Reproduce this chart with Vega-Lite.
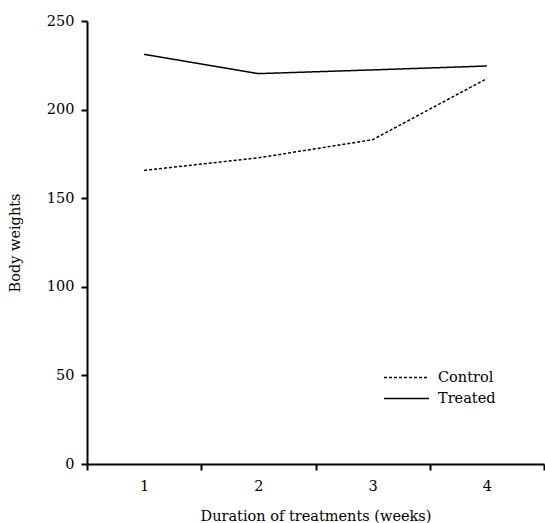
{
  "$schema": "https://vega.github.io/schema/vega-lite/v6.json",
  "autosize": "none",
  "padding": {"left": 87, "top": 21, "right": 1, "bottom": 59},
  "width": 457,
  "height": 443,
  "background": "white",
  "config": {
    "font": "DejaVu Serif",
    "view": {"stroke": null},
    "axis": {
      "domainColor": "black", "tickColor": "black", "labelColor": "black", "titleColor": "black",
      "labelFont": "DejaVu Serif", "titleFont": "DejaVu Serif",
      "labelFontSize": 14.5, "titleFontSize": 14.5, "titleFontWeight": "normal",
      "domainWidth": 2, "tickWidth": 2, "tickSize": 6, "grid": false
    },
    "legend": {"labelFont": "DejaVu Serif", "labelFontSize": 14.5, "labelColor": "black"}
  },
  "data": {
    "values": [
      {"week": "1", "group": "Control", "weight": 165.7},
      {"week": "2", "group": "Control", "weight": 172.8},
      {"week": "3", "group": "Control", "weight": 183.0},
      {"week": "4", "group": "Control", "weight": 217.5},
      {"week": "1", "group": "Treated", "weight": 231.2},
      {"week": "2", "group": "Treated", "weight": 220.3},
      {"week": "3", "group": "Treated", "weight": 222.4},
      {"week": "4", "group": "Treated", "weight": 224.6}
    ]
  },
  "mark": {"type": "line", "color": "black", "strokeWidth": 1.5},
  "encoding": {
    "x": {
      "field": "week", "type": "ordinal",
      "scale": {"type": "band", "paddingInner": 0, "paddingOuter": 0},
      "axis": {"title": "Duration of treatments (weeks)", "labelAngle": 0, "tickBand": "extent", "labelPadding": 9, "titlePadding": 17}
    },
    "y": {
      "field": "weight", "type": "quantitative",
      "scale": {"domain": [0, 250], "nice": false},
      "axis": {"title": "Body weights", "values": [0, 50, 100, 150, 200, 250], "labelPadding": 7, "titlePadding": 24}
    },
    "strokeDash": {
      "field": "group", "type": "nominal",
      "scale": {"domain": ["Control", "Treated"], "range": [[3, 2], [1, 0]]},
      "legend": {
        "title": null, "orient": "none", "legendX": 311, "legendY": 348,
        "symbolType": "M-3,0H3", "symbolSize": 225, "symbolStrokeWidth": 1.5, "symbolStrokeColor": "black",
        "rowPadding": 6, "labelOffset": 23
      }
    }
  }
}
